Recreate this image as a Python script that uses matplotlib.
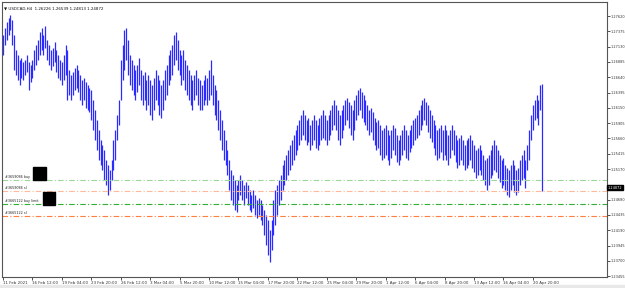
import matplotlib
matplotlib.use("Agg")
import matplotlib.pyplot as plt
from matplotlib.patches import Rectangle

# USDCAD H4 bars, highs and lows
highs = [
    1.2732, 1.2743, 1.2752, 1.2759, 1.2764, 1.2756, 1.2732, 1.2708, 1.2700, 1.2692, 1.2695, 1.2688, 1.2692, 1.2700, 1.2688, 1.2684,
    1.2692, 1.2708, 1.2716, 1.2724, 1.2736, 1.2743, 1.2732, 1.2746, 1.2724, 1.2716, 1.2708, 1.2711, 1.2720, 1.2708, 1.2700, 1.2692,
    1.2688, 1.2700, 1.2716, 1.2708, 1.2676, 1.2668, 1.2672, 1.2679, 1.2684, 1.2676, 1.2668, 1.2660, 1.2663, 1.2656, 1.2652, 1.2647,
    1.2644, 1.2628, 1.2612, 1.2596, 1.2580, 1.2564, 1.2556, 1.2548, 1.2532, 1.2524, 1.2516, 1.2532, 1.2564, 1.2580, 1.2604, 1.2628,
    1.2692, 1.2716, 1.2740, 1.2743, 1.2724, 1.2700, 1.2692, 1.2684, 1.2676, 1.2684, 1.2695, 1.2676, 1.2668, 1.2672, 1.2660, 1.2668,
    1.2660, 1.2652, 1.2663, 1.2676, 1.2668, 1.2660, 1.2652, 1.2660, 1.2676, 1.2684, 1.2700, 1.2708, 1.2716, 1.2732, 1.2736, 1.2724,
    1.2708, 1.2700, 1.2708, 1.2692, 1.2684, 1.2676, 1.2668, 1.2660, 1.2668, 1.2676, 1.2663, 1.2660, 1.2652, 1.2660, 1.2668, 1.2663,
    1.2676, 1.2692, 1.2668, 1.2652, 1.2644, 1.2628, 1.2612, 1.2596, 1.2580, 1.2564, 1.2548, 1.2532, 1.2516, 1.2508, 1.2500, 1.2492,
    1.2500, 1.2508, 1.2500, 1.2492, 1.2496, 1.2492, 1.2484, 1.2476, 1.2484, 1.2476, 1.2468, 1.2471, 1.2468, 1.2460, 1.2452, 1.2444,
    1.2436, 1.2420, 1.2436, 1.2468, 1.2484, 1.2492, 1.2500, 1.2508, 1.2524, 1.2532, 1.2540, 1.2548, 1.2556, 1.2564, 1.2572, 1.2580,
    1.2588, 1.2596, 1.2604, 1.2612, 1.2604, 1.2596, 1.2599, 1.2588, 1.2596, 1.2604, 1.2596, 1.2588, 1.2599, 1.2604, 1.2612, 1.2604,
    1.2596, 1.2604, 1.2612, 1.2620, 1.2628, 1.2620, 1.2612, 1.2604, 1.2612, 1.2620, 1.2628, 1.2631, 1.2624, 1.2620, 1.2612, 1.2628,
    1.2636, 1.2644, 1.2647, 1.2640, 1.2636, 1.2628, 1.2620, 1.2612, 1.2615, 1.2608, 1.2599, 1.2592, 1.2596, 1.2588, 1.2580, 1.2583,
    1.2588, 1.2580, 1.2572, 1.2580, 1.2588, 1.2583, 1.2572, 1.2564, 1.2572, 1.2580, 1.2588, 1.2580, 1.2572, 1.2580, 1.2588, 1.2596,
    1.2599, 1.2604, 1.2612, 1.2620, 1.2628, 1.2631, 1.2624, 1.2620, 1.2612, 1.2604, 1.2596, 1.2588, 1.2580, 1.2583, 1.2588, 1.2580,
    1.2588, 1.2580, 1.2572, 1.2580, 1.2588, 1.2580, 1.2572, 1.2564, 1.2567, 1.2572, 1.2564, 1.2556, 1.2564, 1.2567, 1.2572, 1.2564,
    1.2556, 1.2548, 1.2551, 1.2556, 1.2548, 1.2540, 1.2532, 1.2535, 1.2540, 1.2548, 1.2556, 1.2564, 1.2556, 1.2548, 1.2540, 1.2532,
    1.2535, 1.2524, 1.2519, 1.2516, 1.2524, 1.2532, 1.2524, 1.2516, 1.2519, 1.2532, 1.2540, 1.2548, 1.2532, 1.2556, 1.2580, 1.2604,
    1.2620, 1.2628, 1.2636, 1.2628, 1.2652, 1.26539,
]
lows = [
    1.2700, 1.2716, 1.2724, 1.2732, 1.2740, 1.2716, 1.2676, 1.2668, 1.2660, 1.2652, 1.2663, 1.2660, 1.2668, 1.2672, 1.2644, 1.2656,
    1.2663, 1.2676, 1.2684, 1.2692, 1.2700, 1.2708, 1.2700, 1.2711, 1.2692, 1.2684, 1.2676, 1.2682, 1.2688, 1.2672, 1.2663, 1.2660,
    1.2652, 1.2660, 1.2668, 1.2628, 1.2636, 1.2628, 1.2636, 1.2644, 1.2647, 1.2640, 1.2628, 1.2620, 1.2628, 1.2615, 1.2612, 1.2608,
    1.2596, 1.2580, 1.2564, 1.2548, 1.2532, 1.2524, 1.2516, 1.2500, 1.2492, 1.2476, 1.2484, 1.2500, 1.2516, 1.2532, 1.2564, 1.2588,
    1.2628, 1.2660, 1.2676, 1.2692, 1.2668, 1.2652, 1.2644, 1.2636, 1.2628, 1.2640, 1.2652, 1.2628, 1.2620, 1.2628, 1.2612, 1.2620,
    1.2604, 1.2596, 1.2612, 1.2628, 1.2620, 1.2604, 1.2599, 1.2612, 1.2628, 1.2636, 1.2652, 1.2660, 1.2668, 1.2684, 1.2692, 1.2676,
    1.2668, 1.2652, 1.2660, 1.2644, 1.2636, 1.2628, 1.2620, 1.2612, 1.2628, 1.2636, 1.2620, 1.2612, 1.2612, 1.2620, 1.2628, 1.2620,
    1.2628, 1.2636, 1.2620, 1.2604, 1.2596, 1.2580, 1.2564, 1.2548, 1.2532, 1.2524, 1.2508, 1.2484, 1.2468, 1.2460, 1.2452, 1.2448,
    1.2468, 1.2476, 1.2468, 1.2460, 1.2471, 1.2460, 1.2452, 1.2448, 1.2455, 1.2444, 1.2439, 1.2444, 1.2436, 1.2428, 1.2412, 1.2396,
    1.2380, 1.2368, 1.2388, 1.2412, 1.2428, 1.2444, 1.2460, 1.2468, 1.2484, 1.2492, 1.2500, 1.2508, 1.2516, 1.2524, 1.2532, 1.2540,
    1.2548, 1.2556, 1.2564, 1.2572, 1.2564, 1.2556, 1.2560, 1.2548, 1.2556, 1.2564, 1.2551, 1.2548, 1.2556, 1.2564, 1.2567, 1.2564,
    1.2556, 1.2564, 1.2572, 1.2580, 1.2588, 1.2580, 1.2564, 1.2556, 1.2567, 1.2580, 1.2588, 1.2596, 1.2583, 1.2572, 1.2564, 1.2580,
    1.2596, 1.2604, 1.2612, 1.2599, 1.2592, 1.2588, 1.2580, 1.2572, 1.2576, 1.2564, 1.2556, 1.2548, 1.2551, 1.2540, 1.2532, 1.2535,
    1.2540, 1.2532, 1.2524, 1.2535, 1.2548, 1.2540, 1.2528, 1.2524, 1.2532, 1.2540, 1.2548, 1.2535, 1.2532, 1.2544, 1.2551, 1.2556,
    1.2564, 1.2567, 1.2572, 1.2580, 1.2588, 1.2596, 1.2588, 1.2576, 1.2567, 1.2560, 1.2551, 1.2540, 1.2532, 1.2535, 1.2544, 1.2532,
    1.2540, 1.2532, 1.2524, 1.2535, 1.2548, 1.2540, 1.2528, 1.2519, 1.2524, 1.2532, 1.2524, 1.2516, 1.2519, 1.2524, 1.2532, 1.2519,
    1.2512, 1.2503, 1.2508, 1.2516, 1.2508, 1.2500, 1.2492, 1.2484, 1.2492, 1.2503, 1.2508, 1.2516, 1.2512, 1.2503, 1.2496, 1.2487,
    1.2492, 1.2484, 1.2476, 1.2472, 1.2484, 1.2492, 1.2480, 1.2476, 1.2480, 1.2492, 1.2500, 1.2503, 1.2487, 1.2516, 1.2532, 1.2564,
    1.2580, 1.2596, 1.2599, 1.2588, 1.2612, 1.24813,
]
last_ohlc = [1.26226, 1.26539, 1.24813, 1.24872]

x_labels = ["11 Feb 2021", "16 Feb 12:00", "19 Feb 04:00", "23 Feb 20:00", "26 Feb 12:00",
            "3 Mar 04:00", "5 Mar 20:00", "10 Mar 12:00", "15 Mar 04:00", "17 Mar 20:00",
            "22 Mar 12:00", "25 Mar 04:00", "29 Mar 20:00", "1 Apr 12:00", "6 Apr 04:00",
            "8 Apr 20:00", "13 Apr 12:00", "16 Apr 04:00", "20 Apr 20:00"]
bars_per_label = 16

y_ticks = [1.27620, 1.27375, 1.27130, 1.26885, 1.26640, 1.26395, 1.26150, 1.25905, 1.25660,
           1.25415, 1.25170, 1.24680, 1.24435, 1.24190, 1.23945, 1.23700, 1.23455]

order_names = ["#3659086 buy", "#3659086 sl", "#3665122 buy limit", "#3665122 sl"]
order_prices = [1.2500, 1.2482, 1.2461, 1.2442]
order_colors = ["#9ad89a", "#ffb899", "#33b033", "#ff7f3f"]

W, H = 625, 288
fig = plt.figure(figsize=(W / 100, H / 100), dpi=100)
ax = fig.add_axes([2 / W, 11 / H, 605 / W, 275 / H])

x = list(range(len(highs)))
ax.vlines(x, lows, highs, color="#2b2bff", lw=0.9)

for name, price, col in zip(order_names, order_prices, order_colors):
    ax.axhline(price, color=col, lw=0.8, ls=(0, (5, 2, 1, 2)))
    ax.text(1.2, price + 0.00012, name, fontsize=2.4, color="#222222", va="bottom")

# black boxes next to order labels
ax.add_patch(Rectangle((16.5, 1.24990), 7, 0.00205, color="black", zorder=5))
ax.add_patch(Rectangle((21.5, 1.24600), 7, 0.00205, color="black", zorder=5))

ax.set_xlim(-0.54, 328.3)
ax.set_ylim(1.234406, 1.278442)

ax.yaxis.tick_right()
ax.set_yticks(y_ticks)
ax.set_yticklabels([f"{v:.5f}" for v in y_ticks])
ax.tick_params(axis="y", length=2, width=0.6, labelsize=2.5, pad=0.3, colors="#333333")

ax.set_xticks([i * bars_per_label for i in range(len(x_labels))])
ax.set_xticklabels(x_labels, ha="left")
ax.tick_params(axis="x", length=2, width=0.6, labelsize=2.9, pad=1, colors="#333333")

for s in ax.spines.values():
    s.set_color("#555555")
    s.set_linewidth(0.8)

# current price box
ax.text(1.0015, last_ohlc[3], f"{last_ohlc[3]:.5f}", transform=ax.get_yaxis_transform(),
        fontsize=2.5, color="white", va="center", ha="left",
        bbox=dict(boxstyle="square,pad=0.25", fc="black", ec="black"), clip_on=False)

ax.text(0.004, 0.985, "\u25bc USDCAD,H4  " + " ".join(f"{v:.5f}" for v in last_ohlc),
        transform=ax.transAxes, fontsize=2.9, va="top", ha="left", color="#111111")

fig.patches.append(Rectangle((0, 0), 1, 3 / H, transform=fig.transFigure, color="#e8e8e8"))

fig.savefig("out.png", dpi=100)
